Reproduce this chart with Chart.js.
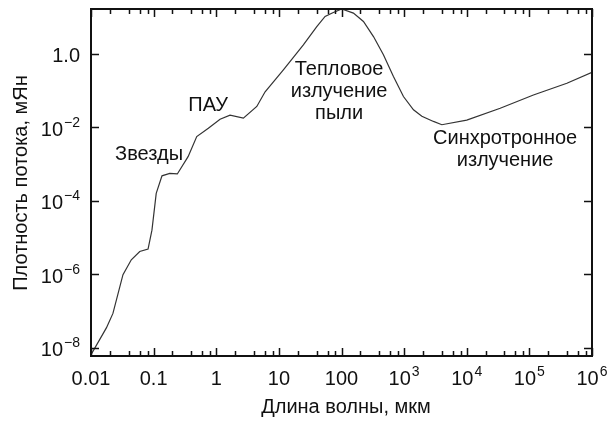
<!DOCTYPE html>
<html>
<head>
<meta charset="utf-8">
<script src="https://cdn.jsdelivr.net/npm/chart.js@4/dist/chart.umd.min.js"></script>
<style>
  html, body { margin: 0; padding: 0; background: #fff; }
  canvas { display: block; }
</style>
</head>
<body>
<canvas id="sedChart" width="610" height="423"></canvas>
<script>
'use strict';

// Wavelength, micrometres
const wavelength = [
	0.01, 0.0176, 0.0224, 0.0324, 0.044, 0.06, 0.0815, 0.094, 0.11, 0.136,
	0.181, 0.239, 0.355, 0.488, 0.748, 1.15, 1.66, 2.71, 4.44, 6.03,
	11.8, 24.6, 40.3, 54.7, 74, 101, 155, 224, 324, 467,
	675, 975, 1410, 1920, 2940, 4000, 10000, 34200, 116000, 397000, 1000000
];

// Flux density, mJy
const flux = [
	6.5e-9, 3.5e-8, 8.7e-8, 9.8e-7, 2.5e-6, 4.2e-6, 4.9e-6, 1.6e-5, 1.6e-4, 4.8e-4,
	5.6e-4, 5.4e-4, 1.6e-3, 5.6e-3, 9.5e-3, 0.0166, 0.0214, 0.0178, 0.037, 0.093,
	0.367, 1.76, 5.5, 10.4, 13.3, 16.6, 12.8, 7.6, 2.95, 0.94,
	0.241, 0.069, 0.030, 0.020, 0.0145, 0.0118, 0.0158, 0.033, 0.076, 0.158, 0.316
];

// Tick labels ("^" marks an exponent)
const xTickValues = [0.01, 0.1, 1, 10, 100, 1e3, 1e4, 1e5, 1e6];
const xTickLabels = ['0.01', '0.1', '1', '10', '100', '10^3', '10^4', '10^5', '10^6'];
const xMinorSteps = [2, 4, 6, 8];
const yTickValues = [1, 1e-2, 1e-4, 1e-6, 1e-8];
const yTickLabels = ['1.0', '10^\u22122', '10^\u22124', '10^\u22126', '10^\u22128'];

// Region labels, anchored in data coordinates
const regionLabels = [
	{ x: 0.0845, y: 1.8e-3, lines: ['Звезды'] },
	{ x: 0.74, y: 0.0385, lines: ['ПАУ'] },
	{ x: 91.6, y: 0.367, lines: ['Тепловое', 'излучение', 'пыли'] },
	{ x: 41000, y: 4.9e-3, lines: ['Синхротронное', 'излучение'] }
];

const FONT = '"Liberation Sans", Arial, sans-serif';
const INK = '#111';

/**
 * Draw "base^exp" text, aligned 'center' or 'right' at x
 */
function drawPowerLabel(ctx, text, x, baseline, align) {
	const parts = text.split('^');
	const baseFont = '20px ' + FONT;
	const expFont = '14px ' + FONT;
	ctx.font = baseFont;
	const wBase = ctx.measureText(parts[0]).width;
	let wExp = 0;
	if (parts.length > 1) {
		ctx.font = expFont;
		wExp = ctx.measureText(parts[1]).width + 1;
	}
	const total = wBase + wExp;
	const start = align === 'right' ? x - total : x - total / 2;
	ctx.textAlign = 'left';
	ctx.textBaseline = 'alphabetic';
	ctx.font = baseFont;
	ctx.fillText(parts[0], start, baseline);
	if (parts.length > 1) {
		ctx.font = expFont;
		ctx.fillText(parts[1], start + wBase + 1, baseline - 9);
	}
}

// Frame, inward ticks, labels and titles
const framePlugin = {
	id: 'sedFrame',
	afterDatasetsDraw: function(chart) {
		const ctx = chart.ctx;
		const area = chart.chartArea;
		const xs = chart.scales.x;
		const ys = chart.scales.y;

		ctx.save();
		ctx.strokeStyle = INK;
		ctx.fillStyle = INK;

		// ticks on x (bottom and top)
		ctx.lineWidth = 1.5;
		xTickValues.forEach(function(v, i) {
			const steps = i < xTickValues.length - 1 ? [1].concat(xMinorSteps) : [1];
			steps.forEach(function(s) {
				const px = Math.round(xs.getPixelForValue(v * s)) + 0.5;
				const len = s === 1 ? 8 : 5;
				ctx.beginPath();
				ctx.moveTo(px, area.bottom);
				ctx.lineTo(px, area.bottom - len);
				ctx.moveTo(px, area.top);
				ctx.lineTo(px, area.top + len);
				ctx.stroke();
			});
		});

		// ticks on y (left and right)
		yTickValues.forEach(function(v) {
			const py = Math.round(ys.getPixelForValue(v)) + 0.5;
			ctx.beginPath();
			ctx.moveTo(area.left, py);
			ctx.lineTo(area.left + 8, py);
			ctx.moveTo(area.right, py);
			ctx.lineTo(area.right - 8, py);
			ctx.stroke();
		});

		// frame
		ctx.lineWidth = 2;
		ctx.strokeRect(area.left, area.top, area.right - area.left, area.bottom - area.top);

		// tick labels
		xTickValues.forEach(function(v, i) {
			drawPowerLabel(ctx, xTickLabels[i], xs.getPixelForValue(v), area.bottom + 29, 'center');
		});
		yTickValues.forEach(function(v, i) {
			drawPowerLabel(ctx, yTickLabels[i], area.left - 11, ys.getPixelForValue(v) + 8.5, 'right');
		});

		// region labels
		ctx.font = '20px ' + FONT;
		ctx.textAlign = 'center';
		ctx.textBaseline = 'middle';
		regionLabels.forEach(function(lab) {
			const px = xs.getPixelForValue(lab.x);
			const py = ys.getPixelForValue(lab.y);
			lab.lines.forEach(function(line, k) {
				ctx.fillText(line, px, py + k * 22);
			});
		});

		// axis titles
		ctx.textBaseline = 'alphabetic';
		ctx.fillText('Длина волны, мкм', 346, 413);
		ctx.save();
		ctx.translate(27, 183);
		ctx.rotate(-Math.PI / 2);
		ctx.fillText('Плотность потока, мЯн', 0, 0);
		ctx.restore();

		ctx.restore();
	}
};

const points = wavelength.map(function(w, i) {
	return { x: w, y: flux[i] };
});

new Chart(document.getElementById('sedChart'), {
	type: 'line',
	data: {
		datasets: [{
			data: points,
			borderColor: '#333',
			borderWidth: 1.2,
			pointRadius: 0,
			tension: 0,
			fill: false
		}]
	},
	options: {
		responsive: false,
		animation: false,
		devicePixelRatio: 1,
		layout: { padding: { left: 0, right: 18, top: 9, bottom: 0 } },
		plugins: {
			legend: { display: false },
			tooltip: { enabled: false }
		},
		scales: {
			x: {
				type: 'logarithmic',
				min: 0.01,
				max: 1e6,
				grid: { display: false },
				border: { display: false },
				ticks: { display: false },
				afterFit: function(scale) { scale.height = 67; }
			},
			y: {
				type: 'logarithmic',
				min: Math.pow(10, -8.22),
				max: Math.pow(10, 1.22),
				grid: { display: false },
				border: { display: false },
				ticks: { display: false },
				afterFit: function(scale) { scale.width = 91; }
			}
		}
	},
	plugins: [framePlugin]
});
</script>
</body>
</html>
